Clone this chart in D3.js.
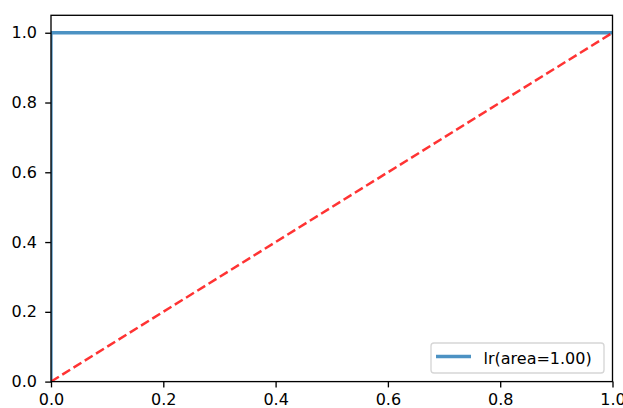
<!DOCTYPE html>
<html><head><meta charset="utf-8">
<script src="https://cdn.jsdelivr.net/npm/d3@7"></script>
<style>
body{margin:0;background:#fff}
svg{display:block}
text{font-family:"DejaVu Sans",sans-serif;fill:#000}
</style>
</head><body>
<svg id="c" width="623" height="408"></svg>
<script>
// ROC curve data
const fpr = [0, 0, 1];
const tpr = [0, 1, 1];
// chance line
const chanceX = [0, 1];
const chanceY = [0, 1];
const xTicks = [0, 0.2, 0.4, 0.6, 0.8, 1.0];
const yTicks = [0, 0.2, 0.4, 0.6, 0.8, 1.0];
const legendLabel = "lr(area=1.00)";

const svg = d3.select("#c");
const L = 51, R = 612.5, T = 15.3, B = 381.6;
const fs = 16;
const x = d3.scaleLinear().domain([0, 1]).range([L, R]);
const y = d3.scaleLinear().domain([0, 1.05]).range([B, T]);

svg.append("defs").append("clipPath").attr("id", "clip")
  .append("rect").attr("x", L).attr("y", T).attr("width", R - L).attr("height", B - T);

const plot = svg.append("g").attr("clip-path", "url(#clip)");

const line = d3.line().x(d => x(d[0])).y(d => y(d[1]));

plot.append("path")
  .datum(fpr.map((f, i) => [f, tpr[i]]))
  .attr("d", line)
  .attr("fill", "none")
  .attr("stroke", "#1f77b4")
  .attr("stroke-opacity", 0.8)
  .attr("stroke-width", 3.3);

plot.append("path")
  .datum(chanceX.map((f, i) => [f, chanceY[i]]))
  .attr("d", line)
  .attr("fill", "none")
  .attr("stroke", "red")
  .attr("stroke-opacity", 0.8)
  .attr("stroke-width", 2.5)
  .attr("stroke-dasharray", "9.25,4");

// axes
const fmt = d3.format(".1f");
const xAxis = svg.append("g").attr("transform", `translate(0,${B})`)
  .call(d3.axisBottom(x).tickValues(xTicks).tickFormat(fmt).tickSize(5.8).tickSizeOuter(0).tickPadding(6));
const yAxis = svg.append("g").attr("transform", `translate(${L},0)`)
  .call(d3.axisLeft(y).tickValues(yTicks).tickFormat(fmt).tickSize(5.8).tickSizeOuter(0).tickPadding(8.2));
[xAxis, yAxis].forEach(a => {
  a.select(".domain").remove();
  a.selectAll(".tick line").attr("stroke", "#000").attr("stroke-width", 1.33);
  a.selectAll(".tick text").attr("font-size", fs).attr("font-family", "DejaVu Sans").attr("fill", "#000");
});

// spines
svg.append("rect").attr("x", L).attr("y", T).attr("width", R - L).attr("height", B - T)
  .attr("fill", "none").attr("stroke", "#000").attr("stroke-width", 1.33);

// legend
const lg = svg.append("g");
lg.append("rect").attr("x", 431).attr("y", 343).attr("width", 173).attr("height", 30).attr("rx", 3)
  .attr("fill", "#fff").attr("fill-opacity", 0.8).attr("stroke", "#d6d6d6").attr("stroke-width", 1.33);
lg.append("line").attr("x1", 436).attr("x2", 471).attr("y1", 356.5).attr("y2", 356.5)
  .attr("stroke", "#1f77b4").attr("stroke-opacity", 0.8).attr("stroke-width", 3.3);
lg.append("text").attr("x", 483.5).attr("y", 363.5).attr("font-size", fs).text(legendLabel);
</script>
</body></html>
